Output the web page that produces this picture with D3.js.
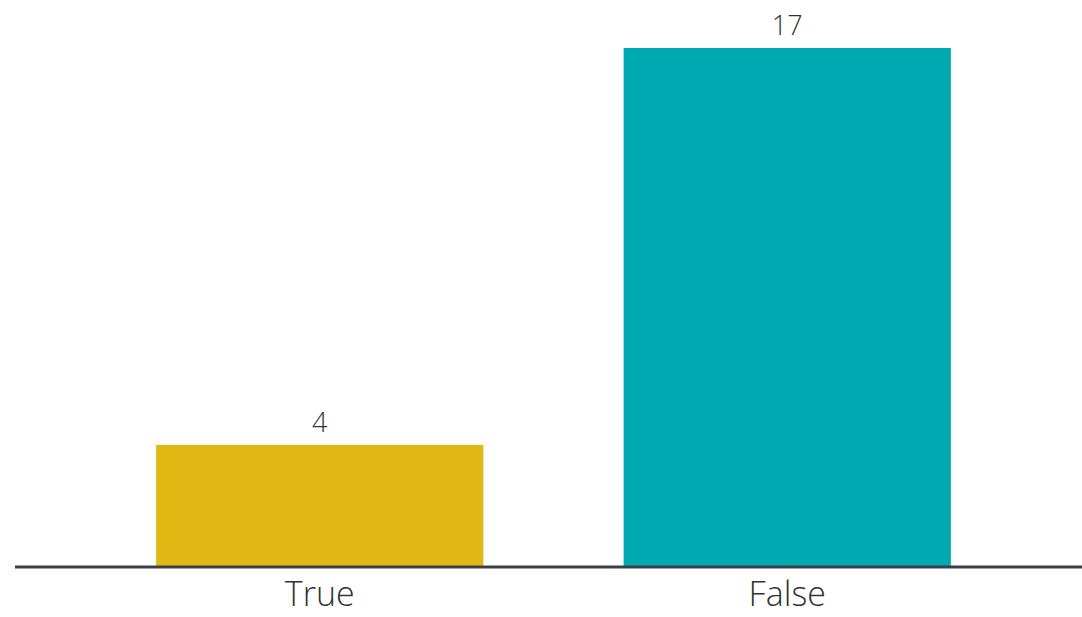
<!DOCTYPE html>
<html>
<head>
<meta charset="utf-8">
<script src="https://cdn.jsdelivr.net/npm/d3@7"></script>
<style>
  body { margin: 0; background: #fff; }
  text { font-family: "Open Sans", Lato, sans-serif; fill: #333; }
</style>
</head>
<body>
<div id="container"></div>
<script>
/* ---------- DATA ---------- */
const categories = ["True", "False"];
const counts = [4, 17];
const colors = ["#E0B814", "#00AAB2"];

/* ---------- CONSTANTS ---------- */
const width = 1082,
  height = 617,
  baseY = 567,
  topY = 48;

const data = categories.map((c, i) => ({ label: c, value: counts[i], color: colors[i] }));

const xScale = d3.scaleBand()
  .domain(categories)
  .range([86, 1021])
  .paddingInner(0.3)
  .paddingOuter(0.15);

const yScale = d3.scaleLinear()
  .domain([0, d3.max(counts)])
  .range([baseY, topY]);

const svg = d3.select("#container")
  .append("svg")
  .attr("width", width)
  .attr("height", height);

// bars
svg.selectAll("rect.bar")
  .data(data)
  .join("rect")
  .attr("class", "bar")
  .attr("x", d => xScale(d.label))
  .attr("width", xScale.bandwidth())
  .attr("y", d => yScale(d.value))
  .attr("height", d => yScale(0) - yScale(d.value))
  .attr("fill", d => d.color);

// value labels
svg.selectAll("text.value")
  .data(data)
  .join("text")
  .attr("class", "value")
  .attr("x", d => xScale(d.label) + xScale.bandwidth() / 2)
  .attr("y", d => yScale(d.value) - 13)
  .attr("text-anchor", "middle")
  .style("font-size", "27px")
  .style("font-weight", 300)
  .text(d => d.value);

// baseline + category labels
const xAxis = d3.axisBottom(xScale).tickSize(0).tickPadding(15);
const axisG = svg.append("g")
  .attr("transform", `translate(0,${baseY})`)
  .call(xAxis);
axisG.select(".domain").remove();
axisG.selectAll("text")
  .style("font-size", "34px")
  .style("font-weight", 300)
  .style("fill", "#333")
  .style("font-family", "'Open Sans', Lato, sans-serif");

svg.append("line")
  .attr("x1", 15)
  .attr("x2", width)
  .attr("y1", baseY)
  .attr("y2", baseY)
  .attr("stroke", "#3c3f48")
  .attr("stroke-width", 3);
</script>
</body>
</html>
